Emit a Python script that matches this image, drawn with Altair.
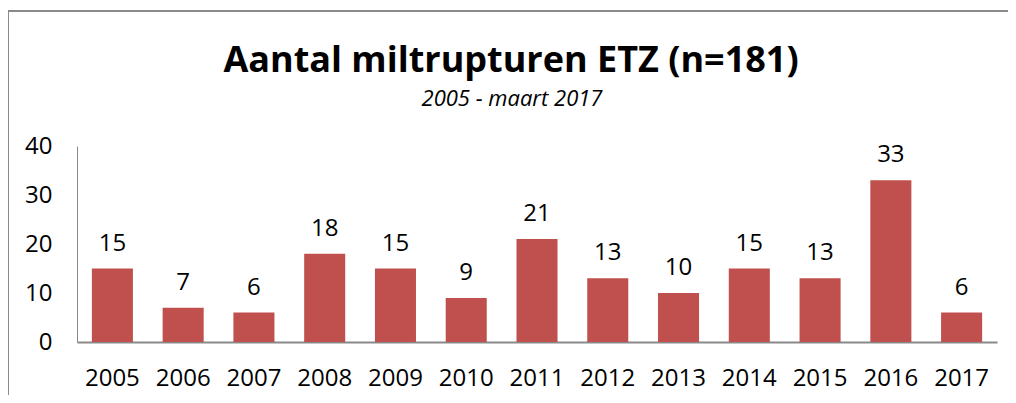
import altair as alt
import pandas as pd

years = ["2005", "2006", "2007", "2008", "2009", "2010", "2011", "2012", "2013", "2014", "2015", "2016", "2017"]
counts = [15, 7, 6, 18, 15, 9, 21, 13, 10, 15, 13, 33, 6]
title_text = "Aantal miltrupturen ETZ (n=181)"
subtitle_text = "2005 - maart 2017"

df = pd.DataFrame({"year": years, "count": counts})
FONT = "Open Sans"
LBL = 24

base = alt.Chart(df)

x = alt.X("year:N", sort=years, title=None,
          scale=alt.Scale(paddingInner=0.42, paddingOuter=0.21),
          axis=alt.Axis(labelAngle=0, ticks=False, labelPadding=24, labelFontSize=LBL,
                        labelFont=FONT, labelColor="#000000", domainColor="#898989",
                        domainWidth=2, grid=False))
y = alt.Y("count:Q", title=None,
          scale=alt.Scale(domain=[0, 40], nice=False),
          axis=alt.Axis(values=[0, 10, 20, 30, 40], ticks=False, labelPadding=25,
                        labelFontSize=LBL, labelFont=FONT, labelColor="#000000",
                        domainColor="#898989", domainWidth=1, grid=False))

bars = base.mark_bar(color="#C0504D").encode(x=x, y=y)
labels = base.mark_text(baseline="alphabetic", dy=-18, fontSize=LBL, font=FONT,
                        color="#000000").encode(x=alt.X("year:N", sort=years),
                                                y="count:Q", text="count:Q")

one = pd.DataFrame({"a": [0]})
left_border = alt.Chart(one).mark_rule(color="#8a8a8a", strokeWidth=2, clip=False).encode(
    x=alt.value(-69), y=alt.value(-135), y2=alt.value(400))
top_border = alt.Chart(one).mark_rule(color="#8a8a8a", strokeWidth=2, clip=False).encode(
    x=alt.value(-70), x2=alt.value(1100), y=alt.value(-135))

title = alt.Chart(pd.DataFrame({"t": [title_text]})).mark_text(
    font=FONT, fontSize=36, fontWeight="bold", color="#000000",
    align="center", baseline="alphabetic", clip=False
).encode(x=alt.value(434), y=alt.value(-74), text="t:N")
subtitle = alt.Chart(pd.DataFrame({"t": [subtitle_text]})).mark_text(
    font=FONT, fontSize=22, fontStyle="italic", color="#000000",
    align="center", baseline="alphabetic", clip=False
).encode(x=alt.value(435), y=alt.value(-40), text="t:N")

chart = alt.layer(left_border, top_border, title, subtitle, bars, labels).properties(
    width=920, height=196,
    autosize=alt.AutoSizeParams(type="none"),
    padding={"left": 69, "top": 138, "right": 11, "bottom": 53},
).configure_view(stroke=None)

chart.save("out.html", embed_options={"renderer": "svg", "actions": False})
